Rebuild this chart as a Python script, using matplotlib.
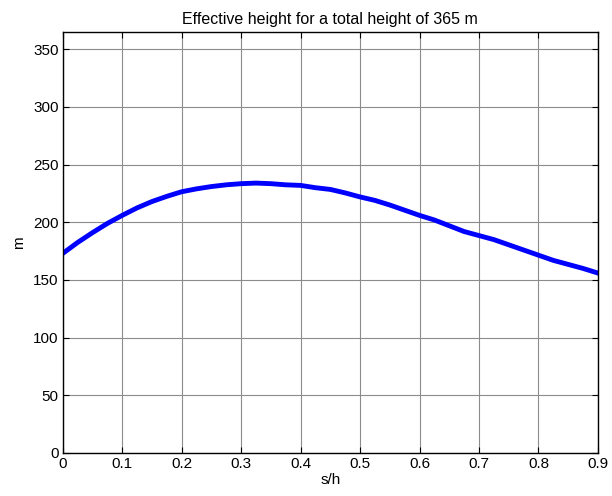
import matplotlib
matplotlib.use("Agg")
import matplotlib.pyplot as plt
import numpy as np

# Data
s_h = [0.0, 0.025, 0.05, 0.075, 0.1, 0.125, 0.15, 0.175, 0.2, 0.225, 0.25,
       0.275, 0.3, 0.325, 0.35, 0.375, 0.4, 0.425, 0.45, 0.475, 0.5, 0.525,
       0.55, 0.575, 0.6, 0.625, 0.65, 0.675, 0.7, 0.725, 0.75, 0.775, 0.8,
       0.825, 0.85, 0.875, 0.9]
h_eff = [173, 182.5, 191, 199, 206, 212.5, 218, 222.5, 226.5, 229, 231,
         232.5, 233.5, 234, 233.5, 232.5, 232, 230, 228.5, 225.5, 222, 219,
         215, 210.5, 206, 202, 197, 192, 188.5, 185, 180.5, 176, 171.5,
         167, 163.5, 160, 156]
x_ticks = [0, 0.1, 0.2, 0.3, 0.4, 0.5, 0.6, 0.7, 0.8, 0.9]
x_labels = ["0", "0.1", "0.2", "0.3", "0.4", "0.5", "0.6", "0.7", "0.8", "0.9"]
y_ticks = [0, 50, 100, 150, 200, 250, 300, 350]

plt.rcParams['font.family'] = ['Liberation Sans', 'DejaVu Sans']

fig = plt.figure(figsize=(6.12, 4.96), dpi=100)
ax = fig.add_axes([0.1025, 0.0867, 0.8745, 0.8488])

ax.plot(s_h, h_eff, '-', color='#0000ff', linewidth=3.5)

ax.set_xlim(0, 0.9)
ax.set_ylim(0, 365)
ax.set_xticks(x_ticks)
ax.set_xticklabels(x_labels)
ax.set_yticks(y_ticks)

ax.tick_params(direction='in', top=True, right=True, length=4, width=0.8,
               labelsize=11, pad=3)
ax.grid(True, color='#8c8c8c', linestyle='-', linewidth=0.8)
for sp in ax.spines.values():
    sp.set_linewidth(1.0)

ax.set_xlabel("s/h", fontsize=11, labelpad=1)
ax.set_ylabel("m", fontsize=11, labelpad=5)
ax.set_title("Effective height for a total height of 365 m", fontsize=11.5, pad=6)

fig.savefig("out.png", dpi=100)
